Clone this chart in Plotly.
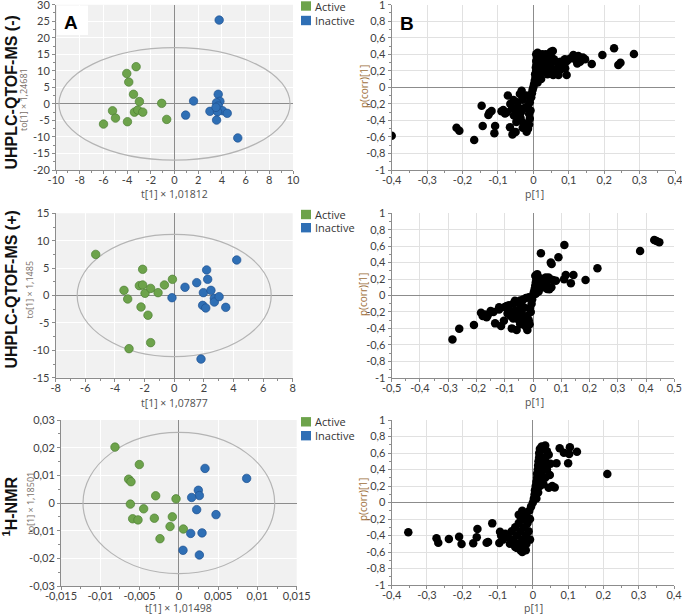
import plotly.graph_objects as go

W, H = 682, 614

# ---------------- data ----------------
# Row 1: UHPLC-QTOF-MS (-) score plot
neg_active_t = [-4.03, -3.24, -3.86, -3.46, -2.96, -5.23, -4.98, -5.99, -3.97, -3.38, -3.10, -2.68, -1.08, -0.66]
neg_active_to = [9.2, 11.25, 6.6, 2.9, 0.7, -2.1, -4.3, -6.1, -5.4, -2.5, -1.85, -2.5, 0.16, -4.7]
neg_inactive_t = [3.77, 1.61, 0.94, 3.69, 3.83, 3.55, 3.69, 4.05, 4.45, 2.99, 3.63, 3.55, 5.34, 3.50]
neg_inactive_to = [25.35, 0.87, -3.4, 2.9, 0.77, 0.36, -0.65, -2.06, -2.86, -2.26, -2.36, -4.9, -10.3, -1.05]

# Row 2: UHPLC-QTOF-MS (+) score plot
pos_active_t = [-5.30, -2.13, -3.39, -3.14, -2.35, -2.13, -1.97, -1.59, -1.09, -0.66, -0.12, -2.24, -1.77, -1.59, -3.05]
pos_active_to = [7.5, 4.78, 0.94, -0.64, 1.8, 1.92, 0.4, 1.3, 0.52, 1.92, 2.95, -2.1, -3.6, -8.6, -9.7]
pos_inactive_t = [-0.15, 0.73, 1.52, 2.19, 2.26, 1.97, 2.48, 1.92, 2.13, 2.71, 2.71, 3.03, 3.48, 4.22, 1.81]
pos_inactive_to = [-0.4, 1.5, 2.34, 4.66, 2.95, 0.52, 0.94, -1.8, -2.28, -0.52, -1.19, -0.21, -2.16, 6.48, -11.6]

# Row 3: 1H-NMR score plot
nmr_active_t = [-0.00813, -0.00503, -0.00639, -0.00609, -0.00295, -0.00036, -0.00617, -0.00448,
                -0.00588, -0.00520, -0.00312, -0.00083, -0.00112, 0.00057, -0.00240]
nmr_active_to = [0.0202, 0.0139, 0.0086, 0.0077, 0.0026, 0.0015, -0.0004, -0.0021,
                 -0.0057, -0.0061, -0.0055, -0.0050, -0.0085, -0.0094, -0.0129]
nmr_inactive_t = [0.00333, 0.00863, 0.00248, 0.00261, 0.00163, 0.00227, 0.00473, 0.00151, 0.00295, 0.00053, 0.00261]
nmr_inactive_to = [0.0125, 0.0089, 0.0046, 0.0027, 0.0020, -0.0024, -0.0042, -0.0110, -0.0108, -0.0171, -0.0188]

# Hotelling ellipse semi-axes (t, to)
ellipse_neg = [9.75, 17.0]
ellipse_pos = [6.55, 11.15]
ellipse_nmr = [0.0122, 0.0255]

# S-plots: (p[1], p(corr)[1])
splot_neg = [
    (-0.400, -0.585), (-0.217, -0.488), (-0.209, -0.524), (-0.167, -0.637), (-0.146, -0.222), (-0.143, -0.468),
    (-0.124, -0.306), (-0.118, -0.286), (-0.127, -0.335), (-0.108, -0.468), (-0.110, -0.556), (-0.085, -0.274),
    (-0.080, -0.315), (-0.072, -0.100), (-0.066, -0.484), (-0.059, -0.569), (-0.056, -0.153), (-0.052, -0.274),
    (-0.033, -0.040), (-0.030, -0.488), (-0.042, -0.355), (-0.019, -0.536), (-0.050, -0.540), (-0.060, -0.250),
    (-0.075, -0.300), (-0.090, -0.290), (-0.065, -0.200), (-0.045, -0.180), (-0.038, -0.080), (-0.035, -0.300),
    (-0.048, -0.420), (-0.028, -0.430), (-0.022, -0.470), (-0.015, -0.500), (-0.025, -0.250), (-0.030, -0.150),
    (-0.020, -0.100), (-0.040, -0.250), (-0.055, -0.340), (-0.036, -0.370),
    (-0.012, -0.45), (-0.010, -0.38), (-0.012, -0.32), (-0.008, -0.28), (-0.015, -0.22), (-0.010, -0.18),
    (-0.006, -0.12), (-0.004, -0.07), (-0.002, -0.03), (0.000, 0.00), (0.002, 0.04), (0.004, 0.08),
    (0.006, 0.12), (0.005, 0.16), (0.008, 0.20), (0.007, 0.24), (0.009, 0.28), (0.008, 0.32),
    (0.010, 0.36), (0.008, 0.40), (0.012, 0.42), (0.015, 0.14), (0.012, 0.06), (0.018, 0.22),
    (0.020, 0.30), (0.018, 0.38), (0.025, 0.40), (0.022, 0.33), (0.028, 0.26), (0.030, 0.36),
    (0.035, 0.40), (0.040, 0.38), (0.045, 0.34), (0.032, 0.30), (0.028, 0.19), (0.038, 0.24),
    (0.048, 0.28), (0.055, 0.44), (0.048, 0.42), (0.058, 0.34), (0.065, 0.31), (0.072, 0.29),
    (0.082, 0.26), (0.090, 0.23), (0.062, 0.22), (0.052, 0.18), (0.040, 0.16), (0.022, 0.10),
    (0.228, 0.472), (0.284, 0.403), (0.195, 0.391), (0.165, 0.282), (0.240, 0.270), (0.246, 0.298),
    (0.146, 0.339), (0.127, 0.379), (0.113, 0.391), (0.124, 0.290), (0.132, 0.310), (0.104, 0.350),
    (0.077, 0.310), (0.089, 0.339), (0.094, 0.149), (0.071, 0.149), (0.056, 0.149), (0.050, 0.431),
    (0.042, 0.210), (0.075, 0.210), (0.085, 0.250), (0.050, 0.370), (0.028, 0.390), (0.095, 0.320),
    (0.140, 0.360), (0.120, 0.330),
]
splot_pos = [
    (-0.285, -0.534), (-0.261, -0.404), (-0.209, -0.359), (-0.184, -0.209), (-0.178, -0.249), (-0.164, -0.266),
    (-0.150, -0.189), (-0.120, -0.144), (-0.134, -0.339), (-0.113, -0.371), (-0.103, -0.306), (-0.093, -0.128),
    (-0.081, -0.197), (-0.075, -0.400), (-0.058, -0.420), (-0.064, -0.063), (-0.020, -0.420),
    (-0.170, -0.230), (-0.160, -0.240), (-0.140, -0.200), (-0.120, -0.170), (-0.100, -0.140), (-0.085, -0.120),
    (-0.070, -0.100), (-0.055, -0.080), (-0.045, -0.060), (-0.035, -0.050), (-0.025, -0.030), (-0.015, -0.020),
    (-0.090, -0.220), (-0.080, -0.250), (-0.070, -0.280), (-0.060, -0.240), (-0.050, -0.300), (-0.045, -0.350),
    (-0.040, -0.220), (-0.035, -0.270), (-0.030, -0.320), (-0.025, -0.380), (-0.020, -0.250), (-0.015, -0.300),
    (-0.012, -0.350), (-0.010, -0.150), (-0.008, -0.200), (-0.005, -0.100), (-0.030, -0.150), (-0.050, -0.170),
    (-0.065, -0.190), (-0.040, -0.120),
    (0.000, 0.00), (0.003, 0.04), (0.006, 0.08), (0.008, 0.12), (0.010, 0.16), (0.012, 0.20),
    (0.008, 0.24), (0.015, 0.26), (0.020, 0.22), (0.025, 0.18), (0.030, 0.14), (0.035, 0.10),
    (0.040, 0.12), (0.045, 0.15), (0.050, 0.18), (0.055, 0.22), (0.060, 0.20), (0.065, 0.10),
    (0.050, 0.08), (0.020, 0.05), (0.015, 0.10), (0.010, 0.02), (-0.003, -0.05),
    (0.028, 0.513), (0.063, 0.400), (0.066, 0.383), (0.090, 0.465), (0.111, 0.614), (0.116, 0.249),
    (0.110, 0.197), (0.134, 0.148), (0.143, 0.249), (0.186, 0.189), (0.228, 0.331), (0.379, 0.542),
    (0.429, 0.675), (0.437, 0.663), (0.447, 0.647), (0.081, 0.180), (0.058, 0.075), (0.070, 0.190),
    (0.045, 0.220), (0.035, 0.200),
]
splot_nmr = [
    (-0.353, -0.362), (-0.273, -0.434), (-0.268, -0.487), (-0.238, -0.442), (-0.209, -0.414), (-0.202, -0.503),
    (-0.169, -0.495), (-0.159, -0.422), (-0.157, -0.321), (-0.131, -0.487), (-0.127, -0.480), (-0.115, -0.253),
    (-0.093, -0.354), (-0.090, -0.400), (-0.095, -0.490), (-0.085, -0.450), (-0.078, -0.380), (-0.070, -0.420),
    (-0.065, -0.500), (-0.060, -0.350), (-0.055, -0.450), (-0.050, -0.300), (-0.050, -0.540), (-0.045, -0.400),
    (-0.040, -0.250), (-0.040, -0.500), (-0.035, -0.350), (-0.035, -0.580), (-0.030, -0.450), (-0.030, -0.200),
    (-0.025, -0.550), (-0.025, -0.300), (-0.020, -0.400), (-0.020, -0.150), (-0.018, -0.500), (-0.015, -0.250),
    (-0.012, -0.350), (-0.010, -0.100), (-0.008, -0.450), (-0.008, -0.200), (-0.005, -0.050), (-0.030, -0.600),
    (-0.020, -0.580), (-0.040, -0.150), (-0.030, -0.100), (-0.045, -0.550),
    (0.000, 0.00), (0.003, 0.05), (0.005, 0.10), (0.006, 0.15), (0.008, 0.20), (0.010, 0.25),
    (0.012, 0.30), (0.012, 0.35), (0.014, 0.40), (0.015, 0.45), (0.016, 0.50), (0.018, 0.55),
    (0.018, 0.60), (0.020, 0.65), (0.025, 0.68), (0.030, 0.66), (0.035, 0.69), (0.040, 0.62),
    (0.035, 0.55), (0.030, 0.50), (0.028, 0.42), (0.025, 0.35), (0.022, 0.28), (0.020, 0.20),
    (0.015, 0.12), (0.010, 0.05), (0.040, 0.48), (0.045, 0.58), (0.035, 0.30), (0.030, 0.22),
    (0.040, 0.40), (0.050, 0.47),
    (0.076, 0.657), (0.105, 0.669), (0.125, 0.616), (0.103, 0.588), (0.088, 0.604), (0.100, 0.475),
    (0.067, 0.475), (0.062, 0.183), (0.048, 0.333), (0.211, 0.345), (0.045, 0.180), (0.055, 0.200),
]

# tick labels
neg_xticks = [-10, -8, -6, -4, -2, 0, 2, 4, 6, 8, 10]
neg_yticks = [-20, -15, -10, -5, 0, 5, 10, 15, 20, 25, 30]
pos_xticks = [-8, -6, -4, -2, 0, 2, 4, 6, 8]
pos_yticks = [-15, -10, -5, 0, 5, 10, 15]
nmr_xticks = [-0.015, -0.01, -0.005, 0, 0.005, 0.01, 0.015]
nmr_xlabels = ["-0,015", "-0,01", "-0,005", "0", "0,005", "0,01", "0,015"]
nmr_yticks = [-0.03, -0.02, -0.01, 0, 0.01, 0.02, 0.03]
nmr_ylabels = ["-0,03", "-0,02", "-0,01", "0", "0,01", "0,02", "0,03"]
s4_xticks = [-0.4, -0.3, -0.2, -0.1, 0, 0.1, 0.2, 0.3, 0.4]
s5_xticks = [-0.5, -0.4, -0.3, -0.2, -0.1, 0, 0.1, 0.2, 0.3, 0.4, 0.5]
s_yticks = [-1, -0.8, -0.6, -0.4, -0.2, 0, 0.2, 0.4, 0.6, 0.8, 1]

row_labels = ["UHPLC-QTOF-MS (-)", "UHPLC-QTOF-MS (+)", "<sup>1</sup>H-NMR"]
score_xtitles = ["t[1] × 1,01812", "t[1] × 1,07877", "t[1] × 1,01498"]
score_ytitles = ["to[1] × 1,24681", "to[1] × 1,1485", "to[1] × 1,18501"]
group_names = ["Active", "Inactive"]

GREEN = "#6da34b"
BLUE = "#2f6fb5"
FONT = "Open Sans"
TICKFONT = "Lato"


def fmt(v):
    return ("%g" % v).replace(".", ",")


def px2x(px):
    return px / W


def px2y(py):
    return 1 - py / H


def axis(dom, rng, tickvals, ticktext, minor_dtick, gridcolor, anchor, standoff):
    return dict(
        domain=dom, range=rng, tickmode="array", tickvals=tickvals, ticktext=ticktext,
        showgrid=True, gridcolor=gridcolor, gridwidth=1,
        zeroline=True, zerolinecolor="#8c8c8c", zerolinewidth=1.2,
        showline=True, linecolor="#8c8c8c", linewidth=1,
        ticks="outside", ticklen=3, tickcolor="#8c8c8c",
        tickfont=dict(family=TICKFONT, size=11, color="#404040"),
        ticklabeloverflow="allow", ticklabelstandoff=standoff,
        minor=dict(dtick=minor_dtick, tick0=0, ticks="outside", ticklen=2, tickcolor="#8c8c8c", showgrid=False),
        anchor=anchor, fixedrange=True, automargin=False,
    )


fig = go.Figure()

# domains in pixels (left, right, top, bottom)
boxes = {
    1: (56, 293, 4.7, 170), 2: (391.7, 675, 4.7, 170),
    3: (55.7, 292.7, 213.3, 377.7), 4: (391.7, 674.3, 213.3, 377.7),
    5: (61, 296.7, 420, 586), 6: (391.7, 674, 420, 585),
}

layout = dict(width=W, height=H, margin=dict(l=0, r=0, t=0, b=0, pad=0, autoexpand=False),
              paper_bgcolor="white", plot_bgcolor="white", showlegend=False)

ranges = {
    1: ([-10, 10], [-20, 30], neg_xticks, [fmt(v) for v in neg_xticks], 1, neg_yticks, [fmt(v) for v in neg_yticks], 2.5),
    3: ([-8, 8], [-15, 15], pos_xticks, [fmt(v) for v in pos_xticks], 1, pos_yticks, [fmt(v) for v in pos_yticks], 2.5),
    5: ([-0.015, 0.015], [-0.03, 0.03], nmr_xticks, nmr_xlabels, 0.0025, nmr_yticks, nmr_ylabels, 0.005),
    2: ([-0.4, 0.4], [-1, 1], s4_xticks, [fmt(v) for v in s4_xticks], 0.05, s_yticks, [fmt(v) for v in s_yticks], 0.1),
    4: ([-0.5, 0.5], [-1, 1], s5_xticks, [fmt(v) for v in s5_xticks], 0.05, s_yticks, [fmt(v) for v in s_yticks], 0.1),
    6: ([-0.4, 0.4], [-1, 1], s4_xticks, [fmt(v) for v in s4_xticks], 0.05, s_yticks, [fmt(v) for v in s_yticks], 0.1),
}

for i in range(1, 7):
    l, r, t, b = boxes[i]
    xr, yr, xt, xl, xm, yt, yl, ym = ranges[i]
    grid = "white" if i in (1, 3, 5) else "#e1e1e1"
    xs = "" if i == 1 else str(i)
    ex = (xr[1] - xr[0]) * 1e-5
    ey = (yr[1] - yr[0]) * 1e-5
    layout["xaxis" + xs] = axis([px2x(l), px2x(r)], [xr[0] - ex, xr[1] + ex], xt, xl, xm, grid, "y" + xs, -3)
    layout["yaxis" + xs] = axis([px2y(b), px2y(t)], [yr[0] - ey, yr[1] + ey], yt, yl, ym, grid, "x" + xs, 0)

fig.update_layout(**layout)

shapes = []
annotations = []

score_sets = [
    (1, neg_active_t, neg_active_to, neg_inactive_t, neg_inactive_to, ellipse_neg),
    (3, pos_active_t, pos_active_to, pos_inactive_t, pos_inactive_to, ellipse_pos),
    (5, nmr_active_t, nmr_active_to, nmr_inactive_t, nmr_inactive_to, ellipse_nmr),
]
for i, at, ao, it, io, ell in score_sets:
    xs = "" if i == 1 else str(i)
    shapes.append(dict(type="rect", xref="x%s domain" % xs, yref="y%s domain" % xs, x0=0, x1=1, y0=0, y1=1,
                       fillcolor="#f1f1f1", line=dict(width=0), layer="below"))
    shapes.append(dict(type="circle", xref="x" + xs, yref="y" + xs, x0=-ell[0], x1=ell[0], y0=-ell[1], y1=ell[1],
                       line=dict(color="#b4b4b4", width=1.2), layer="between"))
    fig.add_trace(go.Scatter(x=at, y=ao, mode="markers", name=group_names[0], xaxis="x" + xs, yaxis="y" + xs,
                             marker=dict(size=8.5, color=GREEN, line=dict(color="#4e8033", width=0.7))))
    fig.add_trace(go.Scatter(x=it, y=io, mode="markers", name=group_names[1], xaxis="x" + xs, yaxis="y" + xs,
                             marker=dict(size=8.5, color=BLUE, line=dict(color="#1f5291", width=0.7))))

for i, pts in [(2, splot_neg), (4, splot_pos), (6, splot_nmr)]:
    xs = str(i)
    fig.add_trace(go.Scatter(x=[p[0] for p in pts], y=[p[1] for p in pts], mode="markers",
                             xaxis="x" + xs, yaxis="y" + xs,
                             marker=dict(size=8.5, color="black", line=dict(width=0))))

# white "A" box
shapes.append(dict(type="rect", xref="paper", yref="paper", x0=px2x(57), x1=px2x(88), y0=px2y(35), y1=px2y(5.5),
                   fillcolor="white", line=dict(width=0), layer="between"))
annotations.append(dict(text="<b>A</b>", x=px2x(71), y=px2y(22.5), xref="paper", yref="paper", showarrow=False,
                        font=dict(family="Liberation Sans", size=19, color="black"), xanchor="center", yanchor="middle"))
annotations.append(dict(text="<b>B</b>", x=px2x(406.5), y=px2y(23), xref="paper", yref="paper", showarrow=False,
                        font=dict(family="Liberation Sans", size=19, color="black"), xanchor="center", yanchor="middle"))

# legends
legend_rows = [(6, 20.5), (214.5, 227.7), (421.8, 435.7)]
for ya, yi in legend_rows:
    for yc, col, name in [(ya, GREEN, group_names[0]), (yi, BLUE, group_names[1])]:
        shapes.append(dict(type="rect", xref="paper", yref="paper", x0=px2x(301), x1=px2x(311),
                           y0=px2y(yc + 4.7), y1=px2y(yc - 4.7), fillcolor=col, line=dict(width=0)))
        annotations.append(dict(text=name, x=px2x(312.5), y=px2y(yc), xref="paper", yref="paper", showarrow=False,
                                xanchor="left", yanchor="middle",
                                font=dict(family=FONT, size=11, color="#333333")))

# row labels
row_label_y = [93, 290, 507]
for txt, yc in zip(row_labels, row_label_y):
    annotations.append(dict(text="<b>%s</b>" % txt, x=px2x(10.5), y=px2y(yc), xref="paper", yref="paper",
                            showarrow=False, textangle=-90, xanchor="center", yanchor="middle",
                            font=dict(family="Liberation Sans", size=16, color="#111111")))

# axis titles
score_xt_pos = [(174, 194), (174, 402.5), (178, 607.5)]
score_yt_pos = [(24, 100), (28.5, 290), (29.5, 503)]
for txt, (x, y) in zip(score_xtitles, score_xt_pos):
    annotations.append(dict(text=txt, x=px2x(x), y=px2y(y), xref="paper", yref="paper", showarrow=False,
                            xanchor="center", yanchor="middle", font=dict(family=FONT, size=10.5, color="#505050")))
for txt, (x, y) in zip(score_ytitles, score_yt_pos):
    annotations.append(dict(text=txt, x=px2x(x), y=px2y(y), xref="paper", yref="paper", showarrow=False,
                            textangle=-90, xanchor="center", yanchor="middle",
                            font=dict(family=FONT, size=9, color="#7a7068")))
s_xt_pos = [(534, 194), (534, 401.5), (533, 607.5)]
s_yt_pos = [(364, 87), (363, 295), (363, 500)]
for (x, y) in s_xt_pos:
    annotations.append(dict(text="p[1]", x=px2x(x), y=px2y(y), xref="paper", yref="paper", showarrow=False,
                            xanchor="center", yanchor="middle", font=dict(family=FONT, size=10.5, color="#505050")))
for (x, y) in s_yt_pos:
    annotations.append(dict(text="p(corr)[1]", x=px2x(x), y=px2y(y), xref="paper", yref="paper", showarrow=False,
                            textangle=-90, xanchor="center", yanchor="middle",
                            font=dict(family=FONT, size=10, color="#a0703c")))

fig.update_layout(shapes=shapes, annotations=annotations)
fig.write_html("out.html", config={"displayModeBar": False},
               post_script="document.body.style.margin='0';document.body.style.overflow='hidden';")
